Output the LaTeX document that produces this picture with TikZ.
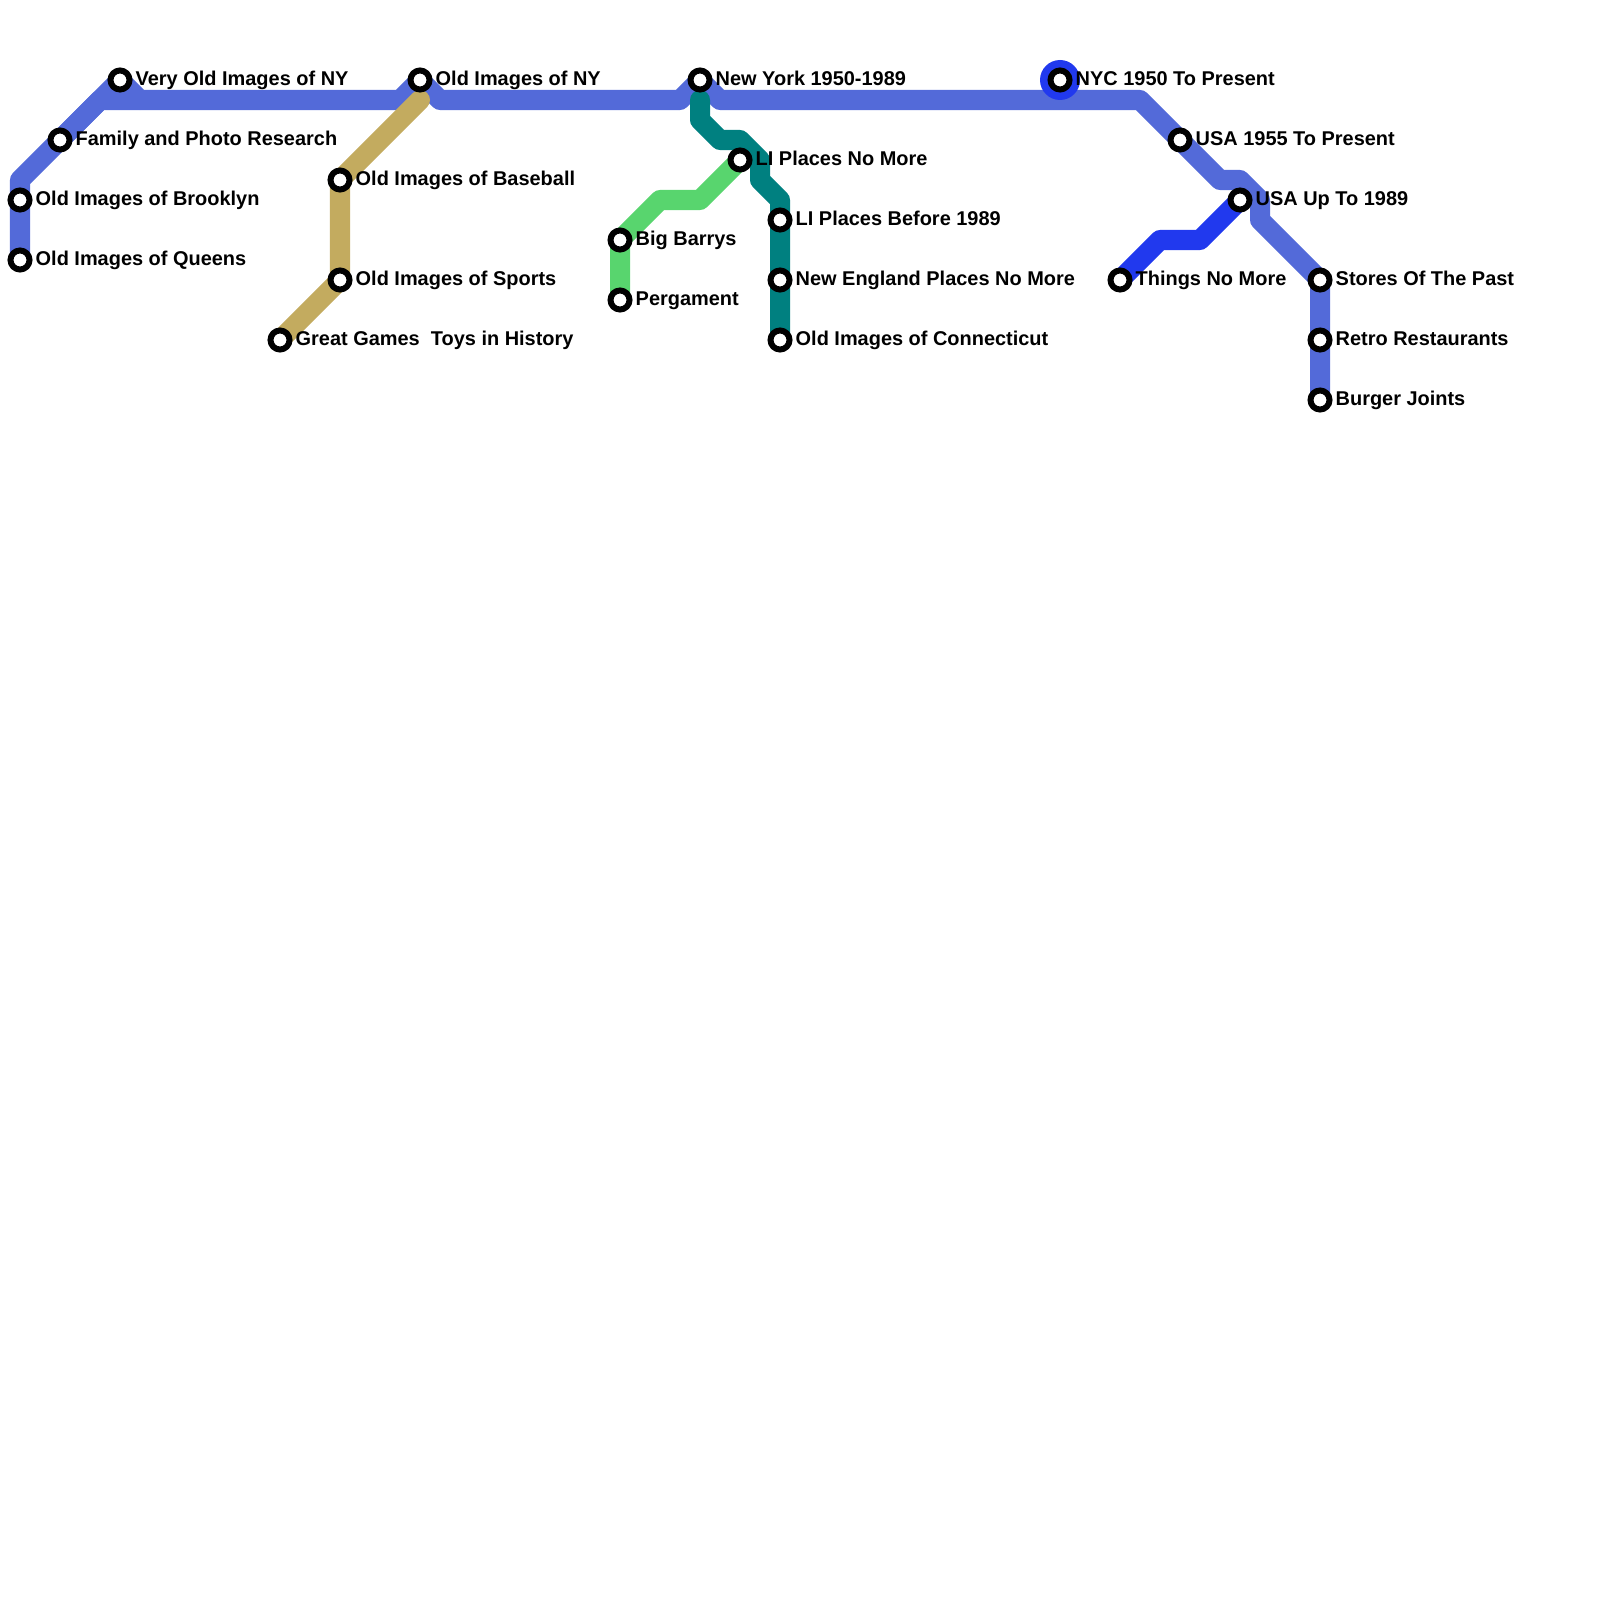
\documentclass[tikz,border=0pt]{standalone}
\usepackage{fontspec}
\setmainfont{Liberation Sans}
\usetikzlibrary{backgrounds}
\definecolor{LineMain}{HTML}{536AD9}
\definecolor{LineTan}{HTML}{C3AB5F}
\definecolor{LineTeal}{HTML}{008080}
\definecolor{LineGreen}{HTML}{58D56E}
\definecolor{LineBlue}{HTML}{2139EE}

\begin{document}
\begin{tikzpicture}[x=0.01cm,y=-0.01cm,
    metro/.style={line width=5.69pt, line join=round, line cap=round},
    stn/.style={circle, draw=black, fill=white, line width=1.7pt, inner sep=0pt, minimum size=0.19cm},
    lbl/.style={anchor=base west, inner sep=0pt, font=\fontsize{5.67pt}{6pt}\selectfont\bfseries}]
        \useasboundingbox (0,0) rectangle (1600,1600);

        % Stations
        \foreach \id/\x/\y/\txt in {
            veryold/120/80/Very Old Images of NY,
            family/60/140/Family and Photo Research,
            brooklyn/20/200/Old Images of Brooklyn,
            queens/20/260/Old Images of Queens,
            oldny/420/80/Old Images of NY,
            baseball/340/180/Old Images of Baseball,
            sports/340/280/Old Images of Sports,
            games/280/340/Great Games\ \ Toys in History,
            barrys/620/240/Big Barrys,
            pergament/620/300/Pergament,
            newyork/700/80/New York 1950-1989,
            liplaces/740/160/LI Places No More,
            libefore/780/220/LI Places Before 1989,
            newengland/780/280/New England Places No More,
            connecticut/780/340/Old Images of Connecticut,
            nyc/1060/80/NYC 1950 To Present,
            usa/1180/140/USA 1955 To Present,
            usaup/1240/200/USA Up To 1989,
            things/1120/280/Things No More,
            stores/1320/280/Stores Of The Past,
            retro/1320/340/Retro Restaurants,
            burger/1320/400/Burger Joints} {
            \node[stn] (\id) at (\x,\y) {};
            \node[lbl] (\id-lbl) at (\x+15,\y+5.5) {\txt};
        }

        \begin{scope}[on background layer]
            % Main line
            \draw[metro, LineMain] (family.center) -- ++(40,-40) -- ++(40,0);
            \draw[metro, LineMain] (queens.center) -- (brooklyn.center) -- ++(0,-20)
                -- (family.center) -- (veryold.center) -- ++(20,20) -- ++(260,0)
                -- (oldny.center) -- ++(20,20) -- ++(240,0)
                -- (newyork.center) -- ++(20,20) -- ++(420,0)
                -- (usa.center) -- ++(40,40) -- ++(20,0) -- ++(20,20) -- ++(0,20)
                -- (stores.center) -- (retro.center) -- (burger.center);

            % Baseball line
            \draw[metro, LineTan] (games.center) -- (sports.center) -- (baseball.center) -- ++(80,-80);

            % Teal line
            \draw[metro, LineTeal] (newyork.center) ++(0,20) -- ++(0,20) -- ++(20,20) -- ++(20,0)
                -- ++(20,20) -- ++(0,20) -- ++(20,20)
                -- (libefore.center) -- (newengland.center) -- (connecticut.center);

            % Green line
            \draw[metro, LineGreen] (pergament.center) -- (barrys.center) -- ++(40,-40) -- ++(40,0) -- (liplaces.center);

            % Blue line
            \draw[metro, LineBlue] (things.center) -- ++(40,-40) -- ++(40,0) -- (usaup.center);
            \fill[LineBlue] (nyc.center) circle (20);
        \end{scope}
\end{tikzpicture}
\end{document}
